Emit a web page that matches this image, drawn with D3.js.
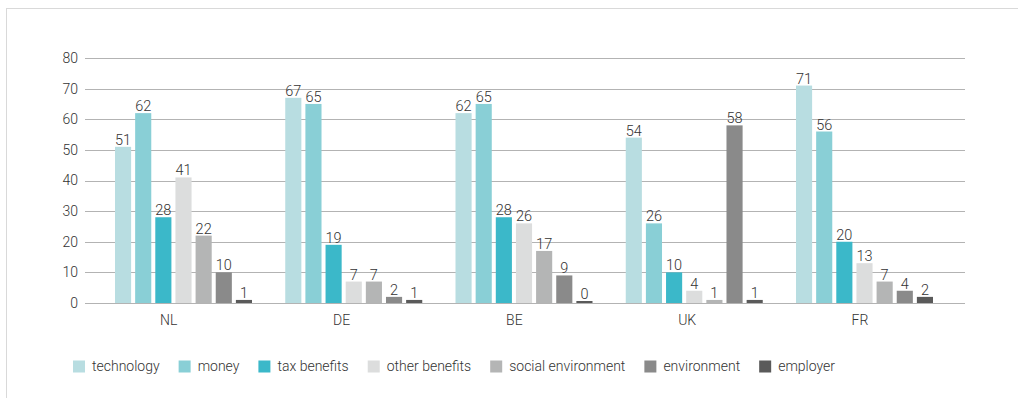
<!DOCTYPE html>
<html>
<head>
<meta charset="utf-8">
<script src="https://cdn.jsdelivr.net/npm/d3@7"></script>
<style>
  html, body { margin: 0; padding: 0; background: #fff; }
  svg { display: block; }
  text { font-family: Roboto, "Liberation Sans", Arial, sans-serif; font-weight: 300; fill: #333; }
</style>
</head>
<body>
<svg id="chart" width="1018" height="398"></svg>
<script>
// Countries along the x axis
const countries = ["NL", "DE", "BE", "UK", "FR"];

// Motivation categories (legend order)
const seriesNames = ["technology", "money", "tax benefits", "other benefits",
                     "social environment", "environment", "employer"];

// Percentages per motivation, one value per country (NL, DE, BE, UK, FR)
const technology        = [51, 67, 62, 54, 71];
const money             = [62, 65, 65, 26, 56];
const taxBenefits       = [28, 19, 28, 10, 20];
const otherBenefits     = [41,  7, 26,  4, 13];
const socialEnvironment = [22,  7, 17,  1,  7];
const environment       = [10,  2,  9, 58,  4];
const employer          = [ 1,  1,  0,  1,  2];

const seriesValues = [technology, money, taxBenefits, otherBenefits,
                      socialEnvironment, environment, employer];

const yTicks = [0, 10, 20, 30, 40, 50, 60, 70, 80];

const colors = ["#b8dde1", "#89cfd6", "#3bb8c9", "#dcdddd",
                "#b4b5b5", "#8a8a8a", "#5a5a5a"];

const svg = d3.select("#chart");

// light frame around the figure
svg.append("rect")
  .attr("x", 6.5).attr("y", 8.5)
  .attr("width", 1100).attr("height", 500)
  .attr("fill", "none")
  .attr("stroke", "#d9d9d9")
  .attr("stroke-width", 1);

const plotLeft = 85, plotRight = 965;

const y = d3.scaleLinear().domain([0, 80]).range([303, 58]);

const groupStep = 170.25;
const x0 = d3.scaleBand()
  .domain(countries)
  .range([85, 85 + groupStep * countries.length])
  .paddingInner(0).paddingOuter(0);

const x1 = d3.scaleBand()
  .domain(seriesNames)
  .range([30, 167])
  .paddingInner(0.2);

const xLabel = d3.scalePoint()
  .domain(countries)
  .range([168.7, 860]);

// horizontal gridlines + y tick labels
const yAxis = svg.append("g");
yAxis.selectAll("line")
  .data(yTicks)
  .join("line")
  .attr("x1", plotLeft).attr("x2", plotRight)
  .attr("y1", d => Math.round(y(d)) + 0.5)
  .attr("y2", d => Math.round(y(d)) + 0.5)
  .attr("stroke", "#b3b3b3")
  .attr("stroke-width", 1);

yAxis.selectAll("text")
  .data(yTicks)
  .join("text")
  .attr("x", 78)
  .attr("y", d => y(d))
  .attr("dy", "0.35em")
  .attr("text-anchor", "end")
  .style("font-size", "14px")
  .text(d => d);

// bars, grouped by country
const rows = countries.map((c, i) => ({
  country: c,
  values: seriesNames.map((s, j) => ({ series: s, idx: j, value: seriesValues[j][i] }))
}));

const groups = svg.append("g").selectAll("g")
  .data(rows)
  .join("g")
  .attr("transform", d => `translate(${x0(d.country)},0)`);

groups.selectAll("rect")
  .data(d => d.values)
  .join("rect")
  .attr("x", d => x1(d.series))
  .attr("width", x1.bandwidth())
  .attr("y", d => Math.min(y(d.value), y(0) - 2))
  .attr("height", d => Math.max(y(0) - y(d.value), 2))
  .attr("fill", d => colors[d.idx]);

groups.selectAll("text")
  .data(d => d.values)
  .join("text")
  .attr("x", d => x1(d.series) + x1.bandwidth() / 2)
  .attr("y", d => Math.min(y(d.value), y(0) - 2) - 2)
  .attr("text-anchor", "middle")
  .style("font-size", "14.5px")
  .text(d => d.value);

// country labels
svg.append("g").selectAll("text")
  .data(countries)
  .join("text")
  .attr("x", d => xLabel(d))
  .attr("y", 325)
  .attr("text-anchor", "middle")
  .style("font-size", "14px")
  .text(d => d);

// legend laid out from measured text widths
const legend = svg.append("g").attr("transform", "translate(73,360.5)");
let lx = 0;
seriesNames.forEach((name, i) => {
  const item = legend.append("g").attr("transform", `translate(${lx},0)`);
  item.append("rect")
    .attr("width", 12).attr("height", 12)
    .attr("fill", colors[i]);
  const t = item.append("text")
    .attr("x", 19)
    .attr("y", 10.5)
    .style("font-size", "14px")
    .text(name);
  lx += 19 + t.node().getComputedTextLength() + 19;
});
</script>
</body>
</html>
